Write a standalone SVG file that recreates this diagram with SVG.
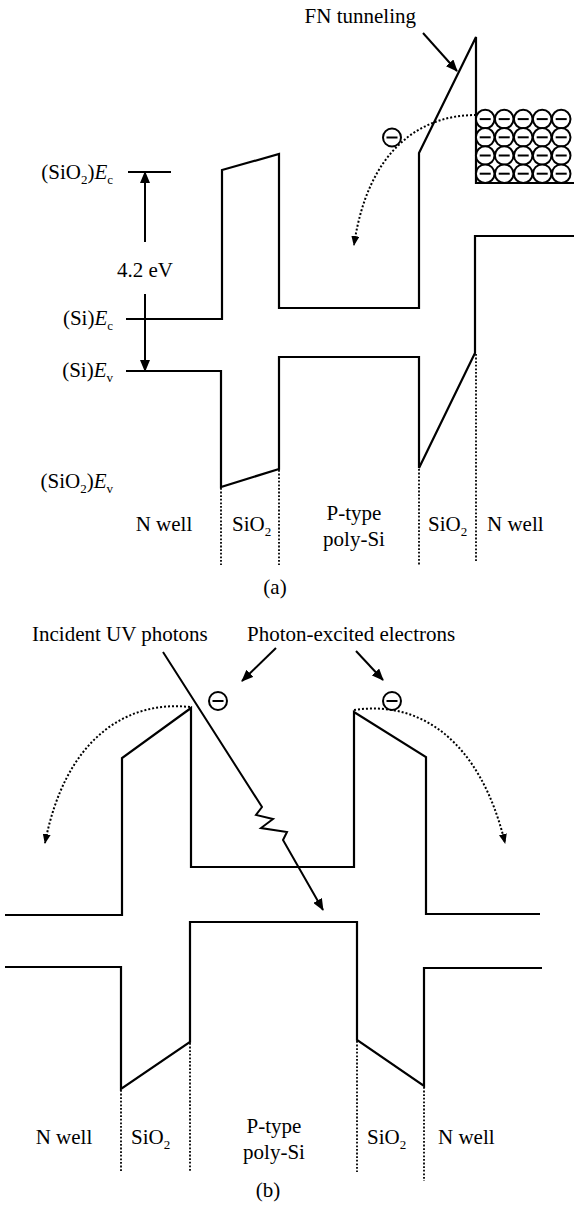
<svg xmlns="http://www.w3.org/2000/svg" width="574" height="1208" viewBox="0 0 574 1208">
<style>
.band{fill:none;stroke:#000;stroke-width:2.2;stroke-linejoin:miter}
.arw{fill:none;stroke:#000;stroke-width:2;marker-end:url(#ah)}
.dot{fill:none;stroke:#000;stroke-width:1.8;stroke-dasharray:1.8 1.8}
.dcurve{fill:none;stroke:#000;stroke-width:2;stroke-dasharray:2 2;marker-end:url(#ah2)}
.t{font-family:"Liberation Serif","Times New Roman",serif;font-size:21px;fill:#000}
.sub{font-size:13px}
.it{font-style:italic}
.el{fill:#fff;stroke:#000;stroke-width:2}
.minus{stroke:#000;stroke-width:2}
</style>
<defs>
<marker id="ah" viewBox="0 0 12 10" refX="11" refY="5" markerWidth="12" markerHeight="10" markerUnits="userSpaceOnUse" orient="auto"><path d="M0,0 L12,5 L0,10 z" fill="#000"/></marker>
<marker id="ah2" viewBox="0 0 10 8" refX="9" refY="4" markerWidth="10" markerHeight="8" markerUnits="userSpaceOnUse" orient="auto"><path d="M0,0 L10,4 L0,8 z" fill="#000"/></marker>
<g id="electron"><circle r="9" class="el"/><line x1="-5.5" y1="0" x2="5.5" y2="0" class="minus"/></g>
<g id="gel"><circle r="9.3" class="el"/><line x1="-5.5" y1="0" x2="5.5" y2="0" class="minus"/></g>
</defs>
<rect width="574" height="1208" fill="#fff"/>

<!-- ===== Panel (a) ===== -->
<g id="a-conduction-band">
<path class="band" d="M126,319 H222 V170 L279,154 V308 H419 V153 L476,37 V183 H574"/>
</g>
<g id="a-valence-band">
<path class="band" d="M126,371 H221 V487 L279,469 V357 H419 V468 L475,353 V236 H574"/>
</g>
<g id="a-sio2-ec-mark">
<line x1="128" y1="172" x2="171" y2="172" stroke="#000" stroke-width="2"/>
</g>
<g id="a-stored-electrons">
<use href="#gel" x="485.2" y="119.1"/><use href="#gel" x="504.2" y="119.1"/><use href="#gel" x="523.2" y="119.1"/><use href="#gel" x="542.2" y="119.1"/><use href="#gel" x="561.2" y="119.1"/>
<use href="#gel" x="485.2" y="137.3"/><use href="#gel" x="504.2" y="137.3"/><use href="#gel" x="523.2" y="137.3"/><use href="#gel" x="542.2" y="137.3"/><use href="#gel" x="561.2" y="137.3"/>
<use href="#gel" x="485.2" y="155.5"/><use href="#gel" x="504.2" y="155.5"/><use href="#gel" x="523.2" y="155.5"/><use href="#gel" x="542.2" y="155.5"/><use href="#gel" x="561.2" y="155.5"/>
<use href="#gel" x="485.2" y="173.7"/><use href="#gel" x="504.2" y="173.7"/><use href="#gel" x="523.2" y="173.7"/><use href="#gel" x="542.2" y="173.7"/><use href="#gel" x="561.2" y="173.7"/>
<line x1="476" y1="183" x2="574" y2="183" stroke="#000" stroke-width="2.2"/>
</g>

<g id="a-connectors">
<line class="arw" x1="423" y1="33" x2="457" y2="71"/>
<line class="arw" x1="145" y1="242" x2="145" y2="172"/>
<line class="arw" x1="145" y1="294" x2="145" y2="371"/>
<path class="dcurve" d="M476,115 C420,115 368,150 354,245"/>
<line class="dot" x1="221" y1="488" x2="221" y2="565"/>
<line class="dot" x1="279" y1="470" x2="279" y2="565"/>
<line class="dot" x1="419" y1="469" x2="419" y2="565"/>
<line class="dot" x1="476" y1="354" x2="476" y2="562"/>
</g>
<g id="a-electron"><use href="#electron" x="392" y="137.5"/></g>

<g id="a-labels">
<text class="t" x="416" y="23" text-anchor="end">FN tunneling</text>
<text class="t" x="113" y="179" text-anchor="end">(SiO<tspan class="sub" dy="5">2</tspan><tspan dy="-5">)</tspan><tspan class="it">E</tspan><tspan class="sub" dy="5">c</tspan></text>
<text class="t" x="145" y="277" text-anchor="middle">4.2 eV</text>
<text class="t" x="113" y="325" text-anchor="end">(Si)<tspan class="it">E</tspan><tspan class="sub" dy="5">c</tspan></text>
<text class="t" x="113" y="377" text-anchor="end">(Si)<tspan class="it">E</tspan><tspan class="sub" dy="5">v</tspan></text>
<text class="t" x="113" y="488" text-anchor="end">(SiO<tspan class="sub" dy="5">2</tspan><tspan dy="-5">)</tspan><tspan class="it">E</tspan><tspan class="sub" dy="5">v</tspan></text>
<text class="t" x="164" y="531" text-anchor="middle">N well</text>
<text class="t" x="232" y="531">SiO<tspan class="sub" dy="5">2</tspan></text>
<text class="t" x="354" y="520" text-anchor="middle">P-type</text>
<text class="t" x="354" y="546" text-anchor="middle">poly-Si</text>
<text class="t" x="428" y="531">SiO<tspan class="sub" dy="5">2</tspan></text>
<text class="t" x="487" y="531">N well</text>
<text class="t" x="275" y="594" text-anchor="middle">(a)</text>
</g>

<!-- ===== Panel (b) ===== -->
<g id="b-conduction-band">
<path class="band" d="M5,915 H122 V758 L191,708 V867 H354 V712 L426,757 V914 H540"/>
</g>
<g id="b-valence-band">
<path class="band" d="M5,967 H121 V1089 L190,1042 V922 H357 V1040 L424,1086 V968 H542"/>
</g>

<g id="b-connectors">
<path class="arw" d="M163,652 L262,807 L256,815 L273,819 L261,828 L287,832 L283,840 L323,910"/>
<line class="arw" x1="276" y1="648" x2="242" y2="681"/>
<line class="arw" x1="356" y1="651" x2="383" y2="680"/>
<path class="dcurve" d="M190,707 C125,700 65,740 45,843"/>
<path class="dcurve" d="M354,710 C420,700 480,740 505,843"/>
<line class="dot" x1="121" y1="1090" x2="121" y2="1172"/>
<line class="dot" x1="190" y1="1043" x2="190" y2="1172"/>
<line class="dot" x1="357" y1="1041" x2="357" y2="1172"/>
<line class="dot" x1="424" y1="1087" x2="424" y2="1181"/>
</g>
<g id="b-electron-left"><use href="#electron" x="218" y="701"/></g>
<g id="b-electron-right"><use href="#electron" x="392" y="701"/></g>

<g id="b-labels">
<text class="t" x="32" y="641">Incident UV photons</text>
<text class="t" x="247" y="641">Photon-excited electrons</text>
<text class="t" x="64" y="1144" text-anchor="middle">N well</text>
<text class="t" x="131" y="1144">SiO<tspan class="sub" dy="5">2</tspan></text>
<text class="t" x="274" y="1133" text-anchor="middle">P-type</text>
<text class="t" x="274" y="1159" text-anchor="middle">poly-Si</text>
<text class="t" x="367" y="1144">SiO<tspan class="sub" dy="5">2</tspan></text>
<text class="t" x="438" y="1144">N well</text>
<text class="t" x="268" y="1197" text-anchor="middle">(b)</text>
</g>
</svg>
